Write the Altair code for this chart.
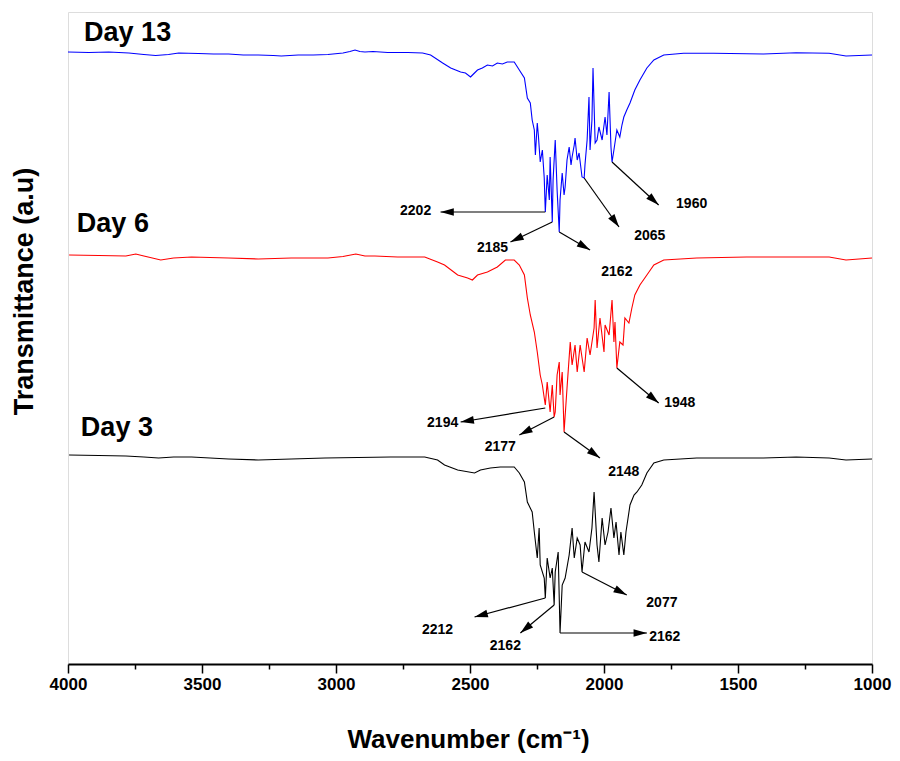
import math
import altair as alt
import pandas as pd

# ---------------- spectra (wavenumber cm-1, transmittance a.u.) ----------------
day13_wn = [4000, 3922, 3848, 3773, 3717, 3673, 3625, 3587, 3513, 3457, 3401, 3346, 3290, 3234, 3204,
            3141, 3085, 3030, 2974, 2948, 2929, 2911, 2892, 2862, 2807, 2732, 2677, 2647, 2602, 2572,
            2535, 2517, 2498, 2487, 2472, 2454, 2435, 2416, 2398, 2379, 2361, 2335, 2316, 2297, 2286,
            2275, 2268, 2260, 2256, 2249, 2245, 2238, 2230, 2223, 2219, 2212, 2204, 2201, 2193, 2190,
            2182, 2175, 2167, 2164, 2156, 2149, 2145, 2138, 2130, 2123, 2119, 2111, 2108, 2100, 2093,
            2082, 2074, 2071, 2063, 2056, 2052, 2045, 2041, 2033, 2026, 2019, 2007, 1996, 1989, 1981,
            1974, 1970, 1963, 1952, 1941, 1933, 1926, 1915, 1903, 1885, 1866, 1840, 1814, 1777, 1703,
            1591, 1405, 1283, 1160, 1097, 1000]
day13_t = [612, 611.5, 612, 611, 609.5, 608.5, 609.5, 611, 610.5, 610, 610, 609, 609, 608.5, 608,
           609, 609, 609.5, 611, 612.5, 614, 612.5, 612, 612.5, 611.5, 611.5, 611, 609, 601, 596,
           592, 591, 587, 590, 594, 596, 599, 598, 601, 600, 602, 602, 594, 586, 566,
           561, 544, 534, 509, 541, 529, 502, 514, 486, 452, 489, 464, 507, 442, 484,
           524, 474, 432, 464, 491, 469, 477, 504, 517, 499, 507, 519, 526, 504, 511,
           487, 486, 499, 524, 567, 514, 544, 596, 521, 524, 537, 524, 547, 529, 572,
           517, 502, 514, 534, 527, 539, 547, 554, 561, 574, 584, 596, 604, 609, 610.7,
           610.7, 610, 611.3, 610.7, 608, 609]

day6_wn = [3996, 3885, 3784, 3747, 3717, 3654, 3606, 3539, 3401, 3290, 3167, 3030, 2974, 2926, 2892,
           2855, 2770, 2669, 2621, 2595, 2546, 2509, 2491, 2472, 2435, 2398, 2368, 2335, 2316, 2297,
           2286, 2275, 2260, 2249, 2238, 2230, 2223, 2219, 2212, 2201, 2193, 2186, 2182, 2175, 2167,
           2164, 2156, 2149, 2138, 2126, 2119, 2108, 2100, 2089, 2074, 2063, 2052, 2037, 2033, 2026,
           2015, 2000, 1996, 1981, 1970, 1963, 1959, 1952, 1941, 1929, 1922, 1907, 1896, 1885, 1866,
           1840, 1814, 1777, 1654, 1468, 1283, 1160, 1097, 1000]
day6_t = [409, 408.5, 408, 410, 408, 404, 406, 407, 406, 405, 406, 406, 407.5, 410, 408,
          408, 407, 407, 402, 399, 389, 386, 384, 389, 392, 397, 404, 404, 399, 389,
          366, 349, 332, 312, 289, 279, 266, 259, 282, 252, 279, 247, 252, 289, 302,
          269, 292, 232, 276, 322, 299, 319, 292, 319, 292, 326, 309, 336, 364, 316,
          346, 312, 339, 329, 364, 322, 342, 296, 322, 319, 346, 341, 356, 369, 379,
          389, 399, 404, 406, 407, 407, 407, 404, 406]

day3_wn = [3996, 3885, 3784, 3717, 3662, 3606, 3539, 3401, 3290, 3167, 3041, 2918, 2796, 2669, 2621,
           2595, 2546, 2483, 2461, 2424, 2387, 2335, 2316, 2297, 2286, 2268, 2260, 2249, 2242, 2238,
           2223, 2219, 2212, 2201, 2193, 2186, 2182, 2171, 2164, 2156, 2145, 2130, 2119, 2111, 2100,
           2089, 2082, 2071, 2056, 2045, 2037, 2026, 2019, 2007, 1996, 1985, 1974, 1963, 1955, 1944,
           1937, 1926, 1918, 1903, 1888, 1877, 1859, 1840, 1814, 1777, 1654, 1532, 1405, 1283, 1160,
           1097, 1000]
day3_t = [209, 208.5, 208, 207, 206, 207, 207, 205, 204, 205, 206, 206.5, 207, 207, 204,
          199, 194, 191, 194, 196, 197, 197, 191, 182, 162, 152, 132, 106, 136, 99,
          86, 66, 106, 86, 96, 59, 92, 112, 31, 79, 86, 109, 136, 106, 126,
          119, 92, 122, 112, 136, 172, 119, 102, 146, 119, 132, 156, 126, 142, 109,
          132, 109, 132, 159, 169, 172, 179, 191, 201, 204, 206, 206, 206, 207, 206,
          204, 205]

series_names = ["Day 13", "Day 6", "Day 3"]
series_colors = ["#0000ff", "#ff0000", "#000000"]

# ---------------- annotations ----------------
ann_text = ["2202", "2185", "2162", "2065", "1960",
            "2194", "2177", "2148", "1948",
            "2212", "2162", "2162", "2077"]
ann_wn_from = [2219, 2193, 2167, 2074, 1970, 2219, 2186, 2149, 1952, 2219, 2186, 2164, 2082]
ann_t_from = [452, 442, 432, 486, 502, 256, 247, 232, 296, 66, 59, 31, 92]
ann_wn_to = [2610, 2349, 2052, 1944, 1796, 2535, 2316, 2015, 1796, 2483, 2312, 1840, 1915]
ann_t_to = [452, 422, 414, 437, 459, 242, 229, 206, 261, 47, 31, 31, 69]
lab_wn = [2703, 2416, 1952, 1829, 1673, 2602, 2387, 1926, 1717, 2621, 2368, 1773, 1784]
lab_t = [453, 416, 392, 428, 460, 241, 217, 192, 261, 34, 18, 27, 61]

day_lab_wn = [3940, 3967, 3952]
day_lab_t = [631, 440, 236]

W, H = 804, 652
T_MAX = 652
FONT = "Liberation Sans"

rows = []
for name, wn, t in zip(series_names, [day13_wn, day6_wn, day3_wn], [day13_t, day6_t, day3_t]):
    for a, b in zip(wn, t):
        rows.append({"series": name, "wn": a, "t": b})
spec = pd.DataFrame(rows)

arr_rows = []
for i in range(len(ann_text)):
    dx = -(ann_wn_to[i] - ann_wn_from[i]) * W / 3000.0
    dy = -(ann_t_to[i] - ann_t_from[i]) * H / T_MAX
    ang = math.degrees(math.atan2(dx, -dy)) % 360
    arr_rows.append({"w1": ann_wn_from[i], "t1": ann_t_from[i],
                     "w2": ann_wn_to[i], "t2": ann_t_to[i], "ang": ang,
                     "lw": lab_wn[i], "lt": lab_t[i], "txt": ann_text[i]})
arrows = pd.DataFrame(arr_rows)

days = pd.DataFrame({"wn": day_lab_wn, "t": day_lab_t, "name": series_names})

xscale = alt.Scale(domain=[1000, 4000], reverse=True, nice=False, zero=False)
yscale = alt.Scale(domain=[0, T_MAX], nice=False, zero=False)

xaxis = alt.Axis(
    title="Wavenumber (cm⁻¹)",
    values=list(range(1000, 4001, 250)),
    labelExpr="datum.value % 500 === 0 ? datum.label : ''",
    format="d",
    labelFlush=False,
    tickSize={"condition": {"test": "datum.value % 500 === 0", "value": 9}, "value": 5},
    tickColor="black", tickWidth=1.5,
    domainColor="black", domainWidth=2,
    labelFont=FONT, labelFontSize=17, labelFontWeight="bold", labelColor="black",
    labelPadding=3,
    titleFont=FONT, titleFontSize=26, titleFontWeight="bold", titleColor="black",
    titleX=400, titleY=75, titleBaseline="middle",
    grid=False,
)
yaxis = alt.Axis(
    title="Transmittance (a.u)", labels=False, ticks=False, domain=False, grid=False,
    titleFont=FONT, titleFontSize=27, titleFontWeight="bold", titleColor="black",
    titleX=-44, titleY=279, titleAngle=270, titleAlign="center", titleBaseline="middle",
)

lines = alt.Chart(spec).mark_line(strokeWidth=1.1).encode(
    x=alt.X("wn:Q", scale=xscale, axis=xaxis),
    y=alt.Y("t:Q", scale=yscale, axis=yaxis),
    color=alt.Color("series:N", scale=alt.Scale(domain=series_names, range=series_colors), legend=None),
    detail="series:N",
)

rules = alt.Chart(arrows).mark_rule(color="black", strokeWidth=1.2).encode(
    x="w1:Q", y="t1:Q", x2="w2:Q", y2="t2:Q"
)

heads = alt.Chart(arrows).mark_point(
    shape="M0,0L-0.55,1.9L0.55,1.9Z", filled=True, color="black", opacity=1, size=196
).encode(
    x="w2:Q", y="t2:Q", angle=alt.Angle("ang:Q", scale=None)
)

labels = alt.Chart(arrows).mark_text(
    font=FONT, fontSize=14, fontWeight="bold", color="black", baseline="middle"
).encode(x="lw:Q", y="lt:Q", text="txt:N")

daytext = alt.Chart(days).mark_text(
    font=FONT, fontSize=27, fontWeight="bold", color="black", align="left", baseline="middle"
).encode(x="wn:Q", y="t:Q", text="name:N")

chart = alt.layer(lines, rules, heads, labels, daytext).properties(
    width=W, height=H,
    autosize=alt.AutoSizeParams(type="none"),
    padding={"left": 60, "top": 4, "right": 20, "bottom": 89},
).configure_view(stroke="#808080", strokeWidth=1.2).configure(background="white")

chart.save("out.html", embed_options={"renderer": "svg", "actions": False})
